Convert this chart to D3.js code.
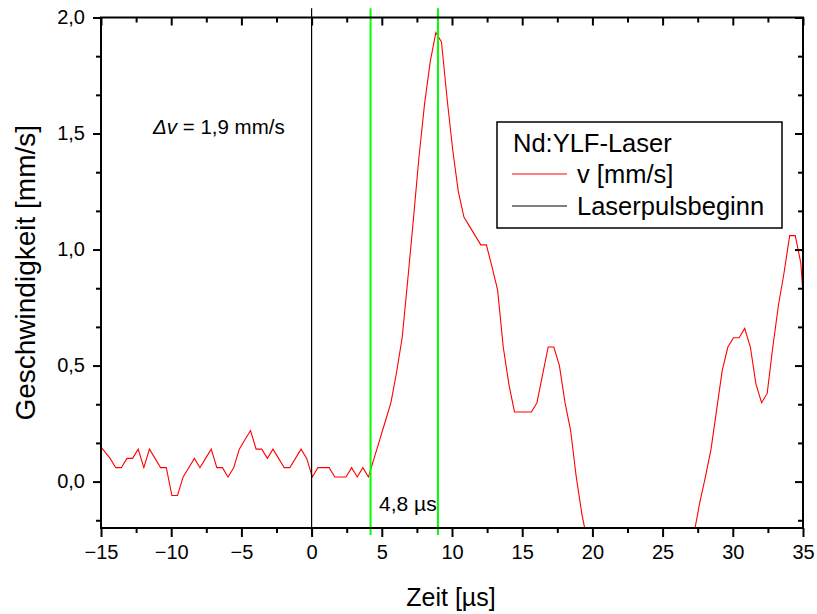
<!DOCTYPE html>
<html>
<head>
<meta charset="utf-8">
<script src="https://cdn.jsdelivr.net/npm/d3@7"></script>
<style>
  html, body { margin: 0; padding: 0; background: #fff; }
  svg { display: block; font-family: "Liberation Sans", Arial, sans-serif; }
</style>
</head>
<body>
<svg id="chart" width="817" height="614"></svg>
<script>
// Time samples [µs] of the measured velocity trace
const timeUs = [
  -15.15, -14.75, -14.35, -13.95, -13.55, -13.15, -12.75, -12.35, -11.95, -11.55,
  -11.15, -10.75, -10.35, -9.95, -9.55, -9.15, -8.75, -8.35, -7.95, -7.55,
  -7.15, -6.75, -6.35, -5.95, -5.55, -5.15, -4.75, -4.35, -3.95, -3.55,
  -3.15, -2.75, -2.35, -1.95, -1.55, -1.15, -0.75, -0.35, 0.05, 0.45,
  0.85, 1.25, 1.65, 2.05, 2.45, 2.85, 3.25, 3.65, 4.05, 4.45,
  4.85, 5.25, 5.65, 6.05, 6.45, 6.85, 7.25, 7.65, 8.05, 8.45,
  8.85, 9.25, 9.65, 10.05, 10.45, 10.85, 11.25, 11.65, 12.05, 12.45,
  12.85, 13.25, 13.65, 14.05, 14.45, 14.85, 15.25, 15.65, 16.05, 16.45,
  16.85, 17.25, 17.65, 18.05, 18.45, 18.85, 19.25, 19.65,
  27.25, 27.65, 28.05, 28.45, 28.85, 29.25, 29.65, 30.05, 30.45, 30.85,
  31.25, 31.65, 32.05, 32.45, 32.85, 33.25, 33.65, 34.05, 34.45, 34.85, 35.25
];
// Velocity v [mm/s] at each time sample
const velocity = [
  0.16, 0.13, 0.10, 0.06, 0.06, 0.10, 0.10, 0.14, 0.06, 0.14,
  0.10, 0.06, 0.06, -0.06, -0.06, 0.02, 0.06, 0.10, 0.06, 0.10,
  0.14, 0.06, 0.06, 0.02, 0.06, 0.14, 0.18, 0.22, 0.14, 0.14,
  0.10, 0.14, 0.10, 0.06, 0.06, 0.10, 0.14, 0.10, 0.02, 0.06,
  0.06, 0.06, 0.02, 0.02, 0.02, 0.06, 0.02, 0.06, 0.02, 0.10,
  0.18, 0.26, 0.34, 0.47, 0.62, 0.87, 1.13, 1.40, 1.63, 1.81,
  1.935, 1.895, 1.65, 1.43, 1.25, 1.14, 1.10, 1.06, 1.02, 1.02,
  0.925, 0.825, 0.58, 0.42, 0.30, 0.30, 0.30, 0.30, 0.34, 0.46,
  0.58, 0.58, 0.50, 0.34, 0.22, 0.02, -0.14, -0.26,
  -0.22, -0.09, 0.02, 0.14, 0.31, 0.48, 0.58, 0.62, 0.62, 0.66,
  0.58, 0.42, 0.34, 0.38, 0.58, 0.76, 0.90, 1.06, 1.06, 0.94, 0.58
];

// Start of the laser pulse (black) and the two delay markers (green)
const pulseStartUs = 0;
const markerUs = [4.2, 9.0];
const markerSpan = [-0.23, 2.04];
const delayLabel = "4,8 µs";
const deltaVLabel = ["Δv", " = 1,9 mm/s"];

// Axis settings
const xDomain = [-15, 35];
const yDomain = [-0.2, 2.0];
const xMajor = [-15, -10, -5, 0, 5, 10, 15, 20, 25, 30, 35];
const xMinor = [-12.5, -7.5, -2.5, 2.5, 7.5, 12.5, 17.5, 22.5, 27.5, 32.5];
const yMajor = [0.0, 0.5, 1.0, 1.5, 2.0];
const yMinor = [-1/6, 1/6, 2/6, 4/6, 5/6, 7/6, 8/6, 10/6, 11/6];

const xTitle = "Zeit [µs]";
const yTitle = "Geschwindigkeit [mm/s]";
const legendTitle = "Nd:YLF-Laser";
const legendItems = [
  { label: "v [mm/s]", color: "#ff0000" },
  { label: "Laserpulsbeginn", color: "#000000" }
];

const svg = d3.select("#chart");
const plot = { left: 101, right: 803, top: 17.5, bottom: 528 };

const x = d3.scaleLinear().domain(xDomain).range([plot.left, plot.right]);
const y = d3.scaleLinear().domain(yDomain).range([plot.bottom, plot.top]);
const fmtY = v => d3.format(".1f")(v).replace(".", ",");

svg.append("defs").append("clipPath").attr("id", "plotClip")
  .append("rect")
  .attr("x", plot.left).attr("y", plot.top)
  .attr("width", plot.right - plot.left).attr("height", plot.bottom - plot.top);

// Velocity trace
const series = timeUs.map((t, i) => ({ t, v: velocity[i] }));
svg.append("path")
  .datum(series)
  .attr("clip-path", "url(#plotClip)")
  .attr("fill", "none")
  .attr("stroke", "#ff0000")
  .attr("stroke-width", 1.1)
  .attr("stroke-linejoin", "miter")
  .attr("d", d3.line().x(d => x(d.t)).y(d => y(d.v)));

// Green delay markers
svg.selectAll("line.marker").data(markerUs).join("line")
  .attr("class", "marker")
  .attr("x1", d => x(d)).attr("x2", d => x(d))
  .attr("y1", y(markerSpan[0])).attr("y2", y(markerSpan[1]))
  .attr("stroke", "#00ff00").attr("stroke-width", 2);

// Laser pulse start
svg.append("line")
  .attr("x1", x(pulseStartUs)).attr("x2", x(pulseStartUs))
  .attr("y1", y(markerSpan[0])).attr("y2", y(markerSpan[1]))
  .attr("stroke", "#000").attr("stroke-width", 1.2);

// Axes: bottom/left ticks outward, top/right ticks inward
const axisColor = "#000";
const tickFont = 20;

svg.append("g").attr("transform", `translate(0,${plot.bottom})`)
  .call(d3.axisBottom(x).tickValues(xMajor).tickSize(9).tickPadding(8).tickFormat(d3.format("d")));
svg.append("g").attr("transform", `translate(0,${plot.bottom})`)
  .call(d3.axisBottom(x).tickValues(xMinor).tickSize(5).tickFormat(""));
svg.append("g").attr("transform", `translate(0,${plot.top})`)
  .call(d3.axisBottom(x).tickValues(xMajor).tickSize(8).tickFormat(""));
svg.append("g").attr("transform", `translate(0,${plot.top})`)
  .call(d3.axisBottom(x).tickValues(xMinor).tickSize(5).tickFormat(""));

svg.append("g").attr("transform", `translate(${plot.left},0)`)
  .call(d3.axisLeft(y).tickValues(yMajor).tickSize(8).tickPadding(8).tickFormat(fmtY));
svg.append("g").attr("transform", `translate(${plot.left},0)`)
  .call(d3.axisLeft(y).tickValues(yMinor).tickSize(5).tickFormat(""));
svg.append("g").attr("transform", `translate(${plot.right},0)`)
  .call(d3.axisLeft(y).tickValues(yMajor).tickSize(8).tickFormat(""));
svg.append("g").attr("transform", `translate(${plot.right},0)`)
  .call(d3.axisLeft(y).tickValues(yMinor).tickSize(5).tickFormat(""));

svg.selectAll(".domain").remove();
svg.selectAll(".tick line").attr("stroke", axisColor).attr("stroke-width", 2);
svg.selectAll(".tick text")
  .attr("fill", "#000")
  .style("font-family", "'Liberation Sans', Arial, sans-serif")
  .style("font-size", tickFont + "px");

// Frame
svg.append("rect")
  .attr("x", plot.left).attr("y", plot.top)
  .attr("width", plot.right - plot.left).attr("height", plot.bottom - plot.top)
  .attr("fill", "none").attr("stroke", axisColor).attr("stroke-width", 2);

// Axis titles
svg.append("text")
  .attr("x", 451).attr("y", 606)
  .attr("text-anchor", "middle").style("font-size", "25px")
  .text(xTitle);
svg.append("text")
  .attr("transform", `translate(35,${(plot.top + plot.bottom) / 2}) rotate(-90)`)
  .attr("text-anchor", "middle").style("font-size", "28px")
  .text(yTitle);

// Annotations
const dv = svg.append("text").attr("x", 153).attr("y", 134).style("font-size", "20.5px");
dv.append("tspan").style("font-style", "italic").text(deltaVLabel[0]);
dv.append("tspan").text(deltaVLabel[1]);

svg.append("text").attr("x", 379).attr("y", 511).style("font-size", "21px").text(delayLabel);

// Legend
const lg = svg.append("g");
lg.append("rect").attr("x", 497).attr("y", 122).attr("width", 285).attr("height", 106)
  .attr("fill", "#fff").attr("stroke", "#000").attr("stroke-width", 1.5);
lg.append("text").attr("x", 513).attr("y", 152).style("font-size", "25.5px").text(legendTitle);
legendItems.forEach((item, i) => {
  const cy = 174 + i * 32;
  lg.append("line").attr("x1", 512).attr("x2", 567).attr("y1", cy).attr("y2", cy)
    .attr("stroke", item.color).attr("stroke-width", 1.2);
  lg.append("text").attr("x", 577).attr("y", cy + 9).style("font-size", "25.5px").text(item.label);
});
</script>
</body>
</html>
